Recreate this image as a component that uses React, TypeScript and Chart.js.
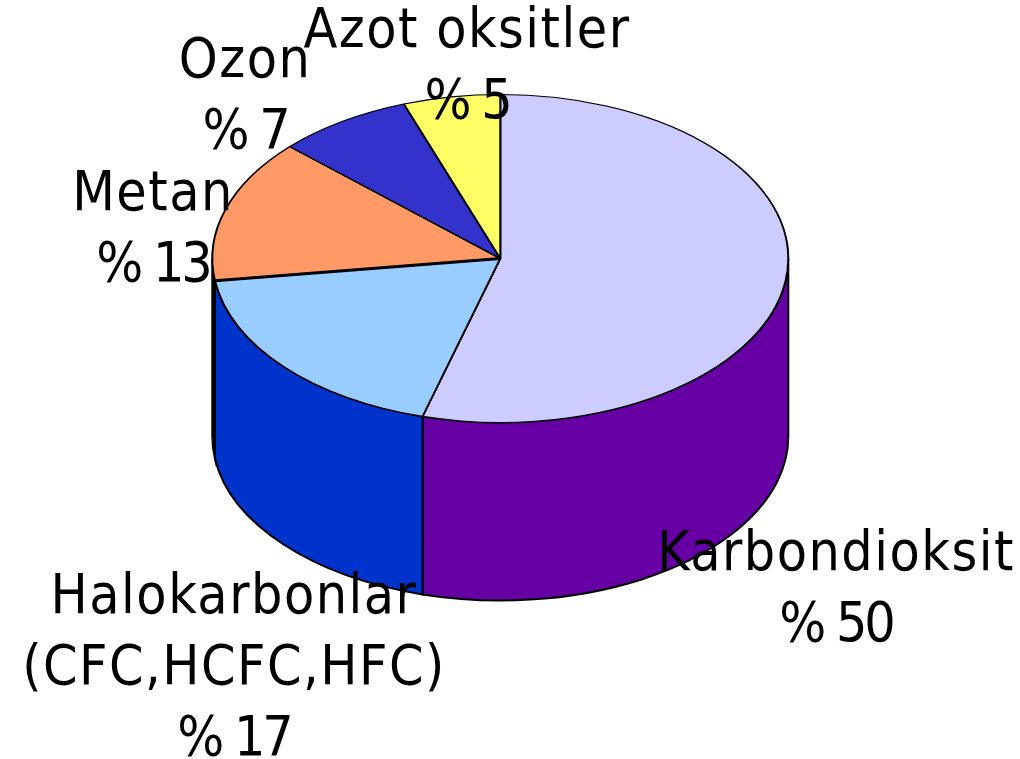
import React, { useEffect, useRef } from "react";
import { Chart, registerables } from "chart.js";

Chart.register(...registerables);

const categories = ["Karbondioksit", "Halokarbonlar", "Metan", "Ozon", "Azot oksitler"];
const values = [50, 17, 13, 7, 5];
const topColors = ["#CCCCFF", "#99CCFF", "#FF9966", "#3333CC", "#FFFF66"];
const sideColors = ["#6600A5", "#0033CC", "#200000", "#1A1A66", "#808033"];
const labelLines = [
  ["Karbondioksit", "% 50"],
  ["Halokarbonlar", "(CFC,HCFC,HFC)", "% 17"],
  ["Metan", "% 13"],
  ["Ozon", "% 7"],
  ["Azot oksitler", "% 5"],
];

const CX = 500.3, CY = 258.5, RX = 288, RY = 164, DEPTH = 178;
const FONT = '55px "DejaVu Sans Condensed", "DejaVu Sans", sans-serif';
const LINE = 71;
const labelAnchors = [
  { x: 836, y: 570 },
  { x: 234, y: 613 },
  { x: 153, y: 210 },
  { x: 245, y: 77 },
  { x: 467, y: 47 },
];

const pie3d = {
  id: "pie3d",
  beforeDatasetsDraw(chart: any) {
    const ctx = chart.ctx;
    const arcs = chart.getDatasetMeta(0).data;
    ctx.save();
    ctx.lineWidth = 2;
    ctx.strokeStyle = "#000";
    arcs.forEach((arc: any, i: number) => {
      const a = Math.max(arc.startAngle, 0);
      const b = Math.min(arc.endAngle, Math.PI);
      if (b <= a) return;
      ctx.beginPath();
      ctx.ellipse(CX, CY, RX, RY, 0, a, b);
      ctx.ellipse(CX, CY + DEPTH, RX, RY, 0, b, a, true);
      ctx.closePath();
      ctx.fillStyle = sideColors[i];
      ctx.fill();
      ctx.stroke();
    });
    ctx.restore();
    const first = arcs[0];
    ctx.save();
    ctx.translate(CX, CY);
    ctx.scale(1, RY / RX);
    ctx.translate(-first.x, -first.y);
  },
  afterDatasetsDraw(chart: any) {
    const ctx = chart.ctx;
    const arcs = chart.getDatasetMeta(0).data;
    ctx.restore();
    const edge = arcs[2].startAngle;
    ctx.save();
    ctx.lineWidth = 3;
    ctx.strokeStyle = "#000";
    ctx.beginPath();
    ctx.moveTo(CX, CY);
    ctx.lineTo(CX + RX * Math.cos(edge), CY + RY * Math.sin(edge));
    ctx.stroke();
    ctx.fillStyle = "#000";
    ctx.font = FONT;
    ctx.textAlign = "center";
    ctx.textBaseline = "alphabetic";
    labelLines.forEach((lines, i) => {
      lines.forEach((t, j) => {
        ctx.letterSpacing = t.startsWith("%") ? "-3px" : "1.5px";
        ctx.fillText(t, labelAnchors[i].x, labelAnchors[i].y + j * LINE);
      });
    });
    ctx.restore();
  },
};

export default function App() {
  const ref = useRef<HTMLCanvasElement>(null);
  useEffect(() => {
    const chart = new Chart(ref.current as HTMLCanvasElement, {
      type: "pie",
      data: {
        labels: categories,
        datasets: [
          {
            data: values,
            backgroundColor: topColors,
            borderColor: "#000",
            borderWidth: 2,
            radius: RX,
          } as any,
        ],
      },
      options: {
        animation: false,
        responsive: false,
        plugins: { legend: { display: false }, tooltip: { enabled: false } },
      },
      plugins: [pie3d],
    } as any);
    return () => chart.destroy();
  }, []);
  return (
    <canvas
      ref={ref}
      width={1020}
      height={759}
      style={{ position: "absolute", left: 0, top: 0, display: "block", background: "#fff" }}
    />
  );
}
